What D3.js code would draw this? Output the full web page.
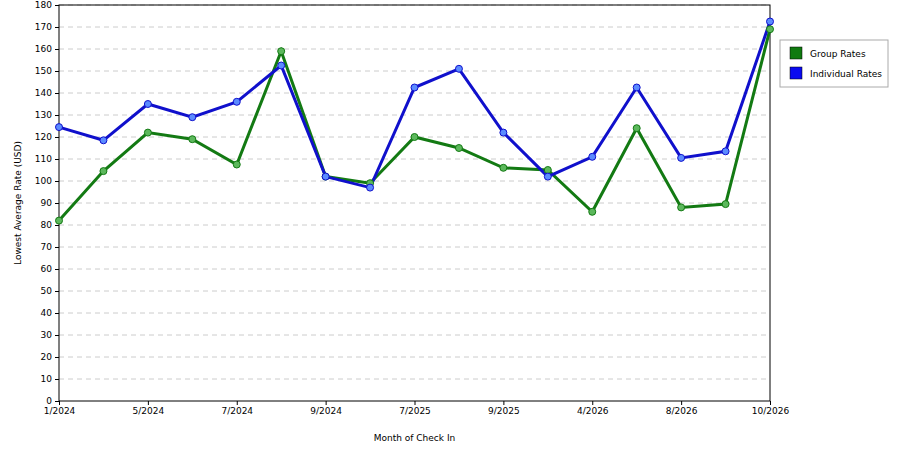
<!DOCTYPE html>
<html><head><meta charset="utf-8">
<script src="https://cdn.jsdelivr.net/npm/d3@7.9.0/dist/d3.min.js"></script>
<style>body{margin:0;background:#fff;font-family:"DejaVu Sans",sans-serif;}</style>
</head><body><svg id="chart" width="900" height="450"></svg>
<script>
const months = ['1/2024', '3/2024', '5/2024', '6/2024', '7/2024', '8/2024', '9/2024', '10/2024', '7/2025', '8/2025',
    '9/2025', '10/2025', '4/2026', '6/2026', '8/2026', '9/2026', '10/2026'];
const tickMonths = ['1/2024', '5/2024', '7/2024', '9/2024', '7/2025', '9/2025', '4/2026', '8/2026', '10/2026'];
const groupRates = [82, 104.5, 122, 119, 107.5, 159, 102, 99, 120, 115, 106, 105, 86, 124, 88, 89.5, 169];
const individualRates = [124.5, 118.5, 135, 129, 136, 152.5, 102, 97, 142.5, 151, 122, 102, 111, 142.5, 110.5, 113.5, 172.5];
const yTicks = d3.range(0, 181, 10);

const svg = d3.select('#chart');
const plotLeft = 59, plotRight = 770, plotTop = 5, plotBottom = 401;

const x = d3.scalePoint().domain(months).range([plotLeft, plotRight]);
const y = d3.scaleLinear().domain([0, 180]).range([plotBottom, plotTop]);

// grid
svg.append('g').selectAll('line').data(yTicks.slice(1)).join('line')
    .attr('x1', plotLeft).attr('x2', plotRight)
    .attr('y1', d => y(d)).attr('y2', d => y(d))
    .attr('stroke', '#ccc').attr('stroke-dasharray', '5,4');

svg.append('rect').attr('x', plotLeft).attr('y', plotTop)
    .attr('width', plotRight - plotLeft).attr('height', plotBottom - plotTop)
    .attr('fill', 'none').attr('stroke', '#000');

const yAxis = svg.append('g').attr('transform', `translate(${plotLeft},0)`)
    .call(d3.axisLeft(y).tickValues(yTicks).tickSize(4).tickFormat(d3.format('d')));
const xAxis = svg.append('g').attr('transform', `translate(0,${plotBottom})`)
    .call(d3.axisBottom(x).tickValues(tickMonths).tickSize(4));
[xAxis, yAxis].forEach(a => {
    a.select('.domain').remove();
    a.selectAll('text').attr('font-size', 9).attr('fill', '#000').attr('font-family', 'DejaVu Sans');
});

svg.append('text').attr('x', (plotLeft + plotRight) / 2).attr('y', 441).attr('text-anchor', 'middle')
    .attr('font-size', 9).text('Month of Check In');
svg.append('text').attr('transform', `translate(21,${(plotTop + plotBottom) / 2}) rotate(-90)`)
    .attr('text-anchor', 'middle').attr('font-size', 9).text('Lowest Average Rate (USD)');

const line = d3.line().x((d, i) => x(months[i])).y(d => y(d));
const series = [
    { values: groupRates, color: '#137a13', light: '#5cb85c' },
    { values: individualRates, color: '#1010cc', light: '#5b8bff' },
];
series.forEach(s => {
    svg.append('path').datum(s.values).attr('d', line)
        .attr('fill', 'none').attr('stroke', s.color).attr('stroke-width', 3);
});
series.forEach(s => {
    svg.append('g').selectAll('circle').data(s.values).join('circle')
        .attr('cx', (d, i) => x(months[i])).attr('cy', d => y(d)).attr('r', 3.5)
        .attr('fill', s.light).attr('stroke', s.color).attr('stroke-width', 1);
});

// legend
const lg = svg.append('g');
lg.append('rect').attr('x', 780).attr('y', 40).attr('width', 108).attr('height', 47)
    .attr('fill', '#fff').attr('stroke', '#aaa');
[['Group Rates', '#0f7a0f'], ['Individual Rates', '#0a0af0']].forEach(([name, c], i) => {
    lg.append('rect').attr('x', 790).attr('y', 47 + i * 20).attr('width', 12).attr('height', 12)
        .attr('fill', c).attr('stroke', '#000').attr('stroke-width', 0.5);
    lg.append('text').attr('x', 810).attr('y', 57 + i * 20).attr('font-size', 9).text(name);
});
</script></body></html>
